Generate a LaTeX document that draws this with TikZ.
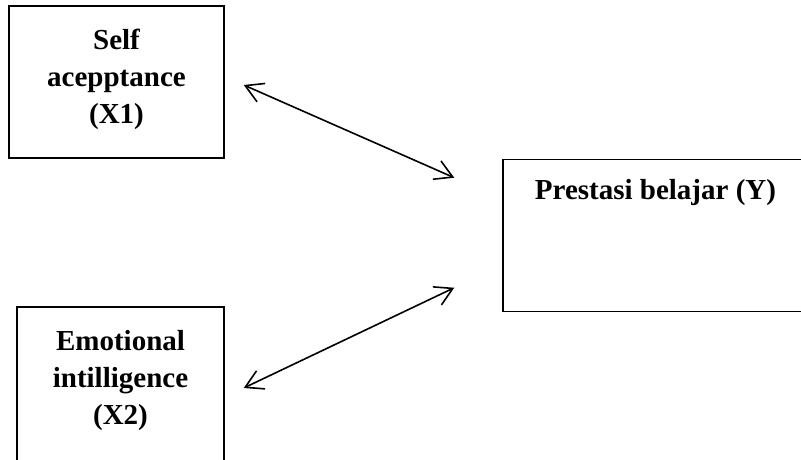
\documentclass[tikz,border=0pt]{standalone}
\usepackage{fontspec}
\setmainfont{Liberation Serif}
\usetikzlibrary{arrows.meta}
\usetikzlibrary{calc}
\tikzset{
   box/.style = {%
    shape=rectangle,
    draw=black,
    line width=1.1pt,
    align=center,
    inner sep=0pt,
    font=\fontsize{21.75}{27.8}\selectfont\bfseries},
 arrow/.style = {%
    draw=black,
    line width=1.2pt,
    {Straight Barb[length=13pt,width=15pt]}-{Straight Barb[length=13pt,width=15pt]}},
    }

\begin{document}
\begin{tikzpicture}[x=0.75pt,y=-0.75pt]
    \useasboundingbox (0,0) rectangle (801,460);
    \node[box, minimum width=161.25pt, minimum height=114pt, text depth=9pt] (x1) at (116.5,82)
        {Self\\acepptance\\(X1)};
    \node[box, minimum width=155.25pt, minimum height=115.5pt, text depth=10pt] (x2) at (120.5,384)
        {Emotional\\intilligence\\(X2)};
    \node[box, anchor=north, minimum width=228.75pt, text height=30pt, text depth=84pt] (y) at (655.5,159)
        {Prestasi belajar (Y)};
    % free ends of the two arrows
    \coordinate (x1e) at ($(x1.east)+(19,3)$);
    \coordinate (x2e) at ($(x2.east)+(19,4)$);
    \coordinate (y1) at ($(y.west)+(-48,-58)$);
    \coordinate (y2) at ($(y.west)+(-48,52)$);
    \draw[arrow] (x1e) -- (y1);
    \draw[arrow] (x2e) -- (y2);
\end{tikzpicture}
\end{document}
